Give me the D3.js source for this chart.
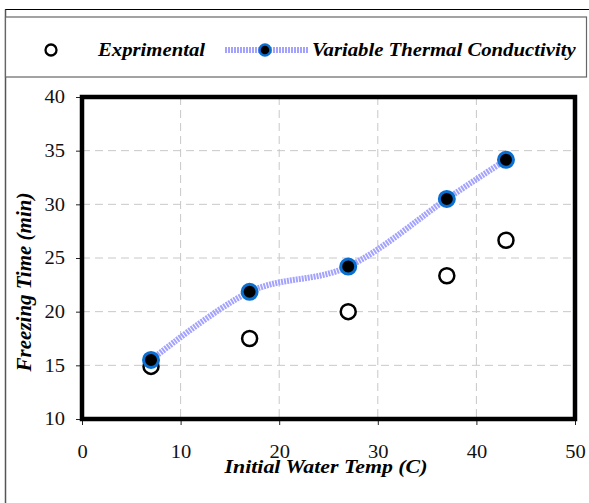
<!DOCTYPE html>
<html><head><meta charset="utf-8">
<script src="https://cdn.jsdelivr.net/npm/d3@7"></script>
<style>body{margin:0;background:#fff}svg{display:block}</style>
</head><body>
<svg id="c" width="589" height="503"></svg>
<script>
const temps = [7, 17, 27, 37, 43];
const experimental = [14.9, 17.5, 20.0, 23.35, 26.65];
const variableK = [15.5, 21.85, 24.2, 30.5, 34.15];
const xTicks = [0, 10, 20, 30, 40, 50];
const yTicks = [10, 15, 20, 25, 30, 35, 40];
const seriesNames = ["Exprimental", "Variable Thermal Conductivity"];
const xTitle = "Initial Water Temp (C)";
const yTitle = "Freezing Time (min)";

const svg = d3.select("#c");
const serif = "'Liberation Serif','Times New Roman',serif";
const L = 82, R = 575, T = 97, B = 419;
const x = d3.scaleLinear().domain([0, 50]).range([L, R]);
const y = d3.scaleLinear().domain([10, 40]).range([B, T]);

function stretch(sel, f) {
  sel.each(function () {
    const w = this.getComputedTextLength();
    d3.select(this).attr("textLength", w * f).attr("lengthAdjust", "spacingAndGlyphs");
  });
}
function bi(sel, size) {
  return sel.style("font-family", serif).style("font-size", size + "px")
    .style("font-weight", "bold").style("font-style", "italic").attr("fill", "#000");
}

// outer frame
svg.append("line").attr("x1", 5).attr("x2", 589).attr("y1", 9.5).attr("y2", 9.5).attr("stroke", "#000").attr("stroke-width", 1.2);
svg.append("line").attr("x1", 5.5).attr("x2", 5.5).attr("y1", 9.5).attr("y2", 503).attr("stroke", "#555").attr("stroke-width", 1.5);
svg.append("rect").attr("x", 5.5).attr("y", 17).attr("width", 581).attr("height", 60)
  .attr("fill", "#fff").attr("stroke", "#666").attr("stroke-width", 1.2);

// grid
const g = svg.append("g");
g.selectAll(".gx").data(xTicks.filter(d => d > 0 && d < 50)).join("line")
  .attr("x1", d => x(d)).attr("x2", d => x(d)).attr("y1", T).attr("y2", B)
  .attr("stroke", "#c8c8c8").attr("stroke-dasharray", "8,5");
g.selectAll(".gy").data(yTicks.filter(d => d > 10 && d < 40)).join("line")
  .attr("x1", L).attr("x2", R).attr("y1", d => y(d)).attr("y2", d => y(d))
  .attr("stroke", "#c8c8c8").attr("stroke-dasharray", "8,5");

// axes
const xAxis = svg.append("g").attr("transform", `translate(0,${B})`)
  .call(d3.axisBottom(x).tickValues(xTicks).tickSize(6).tickPadding(20));
const yAxis = svg.append("g").attr("transform", `translate(${L},0)`)
  .call(d3.axisLeft(y).tickValues(yTicks).tickSize(6).tickPadding(11));
[xAxis, yAxis].forEach(a => {
  a.attr("font-family", null).attr("font-size", null);
  a.select(".domain").remove();
  a.selectAll("line").attr("stroke", "#222");
  a.selectAll("text").style("font-family", serif).style("font-size", "18px").attr("fill", "#111");
  stretch(a.selectAll("text"), 1.14);
});

// plot border
svg.append("rect").attr("x", L).attr("y", T).attr("width", R - L).attr("height", B - T)
  .attr("fill", "none").attr("stroke", "#000").attr("stroke-width", 4.5);

// line
const pts = temps.map((t, i) => [t, variableK[i]]);
svg.append("path").datum(pts)
  .attr("d", d3.line().x(d => x(d[0])).y(d => y(d[1])).curve(d3.curveCatmullRom.alpha(0)))
  .attr("fill", "none").attr("stroke", "#a3a3ff").attr("stroke-width", 6).attr("stroke-dasharray", "2,1");

// experimental markers
svg.selectAll(".exp").data(temps).join("circle")
  .attr("cx", d => x(d)).attr("cy", (d, i) => y(experimental[i])).attr("r", 7.5)
  .attr("fill", "#fff").attr("stroke", "#000").attr("stroke-width", 2.5);
// model markers
svg.selectAll(".mod").data(temps).join("circle")
  .attr("cx", d => x(d)).attr("cy", (d, i) => y(variableK[i])).attr("r", 7.5)
  .attr("fill", "#000").attr("stroke", "#0a6fd0").attr("stroke-width", 3);

// legend
svg.append("circle").attr("cx", 51).attr("cy", 50).attr("r", 5.5).attr("fill", "#fff").attr("stroke", "#000").attr("stroke-width", 2.3);
const t1 = bi(svg.append("text").attr("x", 98).attr("y", 56).text(seriesNames[0]), 18.5);
stretch(t1, 1.12);
svg.append("line").attr("x1", 225).attr("x2", 308).attr("y1", 50).attr("y2", 50)
  .attr("stroke", "#a3a3ff").attr("stroke-width", 6).attr("stroke-dasharray", "2,1");
svg.append("circle").attr("cx", 265).attr("cy", 50).attr("r", 5.5).attr("fill", "#000").attr("stroke", "#0a6fd0").attr("stroke-width", 2.5);
const t2 = bi(svg.append("text").attr("x", 312).attr("y", 56).text(seriesNames[1]), 18.5);
stretch(t2, 1.12);

// axis titles
const xt = bi(svg.append("text").attr("x", 326).attr("y", 473).attr("text-anchor", "middle").text(xTitle), 19.5);
stretch(xt, 1.12);
bi(svg.append("text").attr("transform", "translate(31,282) rotate(-90)").attr("text-anchor", "middle").text(yTitle), 21);
</script>
</body></html>
